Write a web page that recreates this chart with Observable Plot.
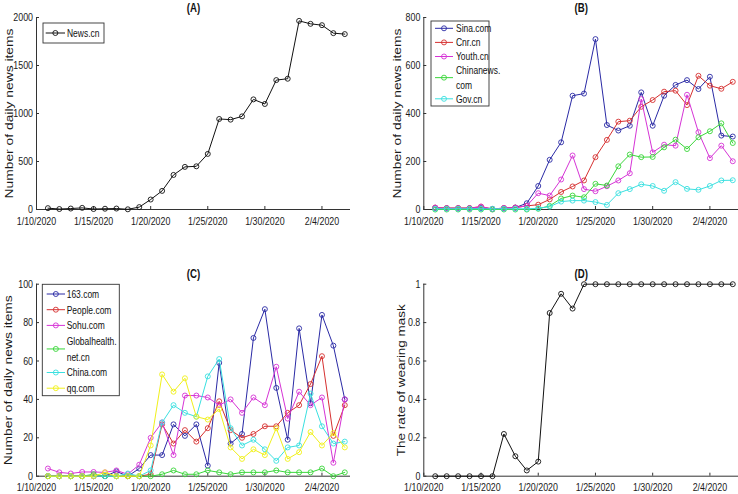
<!DOCTYPE html>
<html><head><meta charset="utf-8">
<script src="https://cdn.jsdelivr.net/npm/d3@7"></script>
<script src="https://cdn.jsdelivr.net/npm/@observablehq/plot@0.6"></script>
<style>
body{margin:0;background:#fff;}
#wrap{position:relative;width:738px;height:494px;overflow:hidden;background:#fff;}
#wrap svg{position:absolute;overflow:visible;}
</style></head><body><div id="wrap"></div>
<script>
// ---------- data ----------
const dates = ["2020-01-11","2020-01-12","2020-01-13","2020-01-14","2020-01-15","2020-01-16","2020-01-17","2020-01-18","2020-01-19","2020-01-20","2020-01-21","2020-01-22","2020-01-23","2020-01-24","2020-01-25","2020-01-26","2020-01-27","2020-01-28","2020-01-29","2020-01-30","2020-01-31","2020-02-01","2020-02-02","2020-02-03","2020-02-04","2020-02-05","2020-02-06"];
const xTickDates = ["2020-01-10","2020-01-15","2020-01-20","2020-01-25","2020-01-30","2020-02-04"];
const xDomainDates = ["2020-01-10","2020-02-06T12:00"];

// (A)
const newsCn = [14,5,10,17,5,8,10,2,25,104,194,360,444,450,579,943,936,970,1147,1099,1348,1362,1965,1934,1920,1837,1827];
// (B)
const sinaCom   = [6,5,5,5,6,2,5,8,26,98,207,280,474,483,710,352,329,349,488,349,474,519,539,502,553,308,304];
const cnrCn     = [8,6,6,6,12,2,6,8,15,20,42,73,96,121,218,290,366,370,428,456,491,495,435,557,516,503,532];
const youthCn   = [8,5,5,5,12,2,6,8,15,68,58,125,225,85,76,97,121,151,460,238,270,266,478,322,214,266,201];
const chinanews = [0,0,0,0,0,0,0,0,0,3,15,46,58,51,107,100,180,229,218,219,259,291,252,301,326,359,277];
const govCn     = [3,3,3,3,3,3,3,3,3,5,12,33,37,37,31,19,68,85,105,98,78,114,86,82,98,121,122];
// (C)
const com163       = [0,0,0,0,0,0,2.5,0,4,11,11,27,21,27,5.5,59,17,22,72,87,46,19,77,38,84,68,40];
const peopleCom    = [0,0,0,0,0,0,0,0,0,1,27,17,24,18,25,39,24,20,22,26,26,33,37,48,62.5,21,37];
const sohuCom      = [4,2,1.4,2.2,2.2,2,3,1,6,20,28,11,42,42,41,37,40,33,41,37,57,30,44,37,41,7,40];
const globalhealth = [0,0,0,0,1,0,0,0,0,0,1,3,1,1,3,2,1,2,2,2,3,2,2,2,4,0,2];
const chinaCom     = [0,0,0,0,0,0,0,1.4,0,3,28,37,33,31,52,61,25,16,19,14,8,15,16,43,26,17,18];
const qqCom        = [0,0,0,0,0,2,0,0,0,16,53,44,51,31,29.5,35,15,9,14,11,25,9,12.5,23,16,22.5,15];
// (D)
const maskRate = [0,0,0,0,0,0,0.22,0.104,0.03,0.076,0.85,0.95,0.873,1,1,1,1,1,1,1,1,1,1,1,1,1,1];

const ticksA = [0,500,1000,1500,2000];
const ticksB = [0,200,400,600,800];
const ticksC = [0,20,40,60,80,100];
const ticksD = [0,0.2,0.4,0.6,0.8,1];

const labelNews = "Number of daily news items";
const labelMask = "The rate of wearing mask";

const seriesA = [{name:["News.cn"], values:newsCn, color:"#111"}];
const seriesB = [
  {name:["Sina.com"], values:sinaCom, color:"#2a2aa5"},
  {name:["Cnr.cn"], values:cnrCn, color:"#d63030"},
  {name:["Youth.cn"], values:youthCn, color:"#d633d6"},
  {name:["Chinanews.","com"], values:chinanews, color:"#3ad63a"},
  {name:["Gov.cn"], values:govCn, color:"#3ae0e0"}
];
const seriesC = [
  {name:["163.com"], values:com163, color:"#2a2aa5"},
  {name:["People.com"], values:peopleCom, color:"#d63030"},
  {name:["Sohu.com"], values:sohuCom, color:"#d633d6"},
  {name:["Globalhealth.","net.cn"], values:globalhealth, color:"#3ad63a"},
  {name:["China.com"], values:chinaCom, color:"#3ae0e0"},
  {name:["qq.com"], values:qqCom, color:"#f0f01a"}
];
const seriesD = [{name:["mask"], values:maskRate, color:"#111"}];

// ---------- drawing ----------
const FONT = '"Liberation Sans",Arial,Helvetica,sans-serif';
const parse = s => new Date(s + (s.length === 10 ? "T00:00Z" : "Z"));
const wrap = document.getElementById("wrap");

function panel({left, top, ml, mr, mt, mb, xPad, yDomain, yTicks, yLabel, labelDx, title, series}) {
  const marks = [
    Plot.ruleY([yDomain[0]], {stroke:"#333", strokeWidth:1}),
    Plot.ruleX([parse(xDomainDates[0])], {stroke:"#333", strokeWidth:1}),
    Plot.axisX({ticks: xTickDates.map(parse), tickFormat: d => `${d.getUTCMonth()+1}/${d.getUTCDate()}/${d.getUTCFullYear()}`,
      tickSize: -3, tickPadding: xPad, label: null, fontSize: 11.5, stroke:"#333", fill:"#1a1a1a"}),
    Plot.axisY({ticks: yTicks, tickFormat: d => String(d), tickSize: -3, tickPadding: 6.5, label: null, fontSize: 11.5, stroke:"#333", fill:"#1a1a1a"}),
    Plot.text([yLabel], {frameAnchor:"left", rotate:-90, dx: labelDx, fontSize: 11.5, textAnchor:"middle", lineAnchor:"middle", fill:"#1a1a1a"}),
    Plot.text([title], {frameAnchor:"top", dy:-10, fontSize: 12.5, fontWeight:"bold", textAnchor:"middle", lineAnchor:"middle", fill:"#111"})
  ];
  series.forEach(s => {
    const rows = s.values.map((v,i) => ({date: parse(dates[i]), value: v}));
    marks.push(Plot.line(rows, {x:"date", y:"value", stroke:s.color, strokeWidth:1}));
    marks.push(Plot.dot(rows, {x:"date", y:"value", r:2.5, stroke:s.color, fill:"none", strokeWidth:0.9}));
  });
  const chart = Plot.plot({
    width: 369, height: 247, marginLeft: ml, marginRight: mr, marginTop: mt, marginBottom: mb,
    style: {fontFamily: FONT, fontSize: "11.5px", color: "#1a1a1a", background: "transparent", overflow: "visible"},
    x: {type: "utc", domain: xDomainDates.map(parse)},
    y: {domain: yDomain},
    marks
  });
  chart.style.left = left + "px";
  chart.style.top = top + "px";
  wrap.appendChild(chart);
}

panel({left:0, top:0, ml:36, mr:19, mt:17, mb:38, xPad:10.5, yDomain:[0,2000], yTicks:ticksA,
  yLabel:labelNews, labelDx:-27.5, title:"(A)", series:seriesA});
panel({left:369, top:0, ml:54.3, mr:0, mt:17, mb:38, xPad:10.5, yDomain:[0,800], yTicks:ticksB,
  yLabel:labelNews, labelDx:-26.6, title:"(B)", series:seriesB});
panel({left:0, top:247, ml:36, mr:19, mt:36.7, mb:18.3, xPad:9.6, yDomain:[0,100], yTicks:ticksC,
  yLabel:labelNews, labelDx:-27.7, title:"(C)", series:seriesC});
panel({left:369, top:247, ml:54.3, mr:0, mt:36.7, mb:18.3, xPad:9.6, yDomain:[0,1], yTicks:ticksD,
  yLabel:labelMask, labelDx:-22.8, title:"(D)", series:seriesD});

// ---------- legends ----------
const overlay = d3.select(wrap).append("svg").attr("width",738).attr("height",494).style("left","0px").style("top","0px")
  .style("font-family", FONT).style("font-size","11px");
function legend({x, y, w, h, lx0, lx1, tx, firstY, pitch, items}) {
  const g = overlay.append("g");
  g.append("rect").attr("x",x).attr("y",y).attr("width",w).attr("height",h)
    .attr("fill","#fff").attr("stroke","#333").attr("stroke-width",0.9);
  let row = 0;
  items.forEach(it => {
    const n = it.name.length;
    const cy = firstY + pitch*(row + (n-1)/2);
    g.append("line").attr("x1",lx0).attr("x2",lx1).attr("y1",cy).attr("y2",cy).attr("stroke",it.color).attr("stroke-width",1);
    g.append("circle").attr("cx",(lx0+lx1)/2).attr("cy",cy).attr("r",2.5).attr("fill","none").attr("stroke",it.color).attr("stroke-width",0.9);
    it.name.forEach((t,k) => g.append("text").attr("x",tx).attr("y",firstY + pitch*(row+k)).attr("dy","0.35em").attr("fill","#111").text(t));
    row += n;
  });
}
legend({x:43, y:23, w:61, h:20, lx0:45.7, lx1:65, tx:67, firstY:33, pitch:15, items:seriesA});
legend({x:431, y:21, w:58, h:85, lx0:435, lx1:453, tx:456, firstY:28.3, pitch:14.1, items:seriesB});
legend({x:42.3, y:284.3, w:77, h:111.4, lx0:46.7, lx1:65, tx:66.7, firstY:294, pitch:15.7, items:seriesC});

// ---------- condense text horizontally (reference uses a narrow face) ----------
const labelLengths = {[labelNews]: 170, [labelMask]: 152};
wrap.querySelectorAll("text").forEach(t => {
  if (t.querySelector("tspan")) return;
  const s = t.textContent;
  const L = t.getComputedTextLength();
  if (!L) return;
  const target = labelLengths[s] != null ? labelLengths[s] : L * 0.77;
  t.setAttribute("textLength", target);
  t.setAttribute("lengthAdjust", "spacingAndGlyphs");
});
</script></body></html>
